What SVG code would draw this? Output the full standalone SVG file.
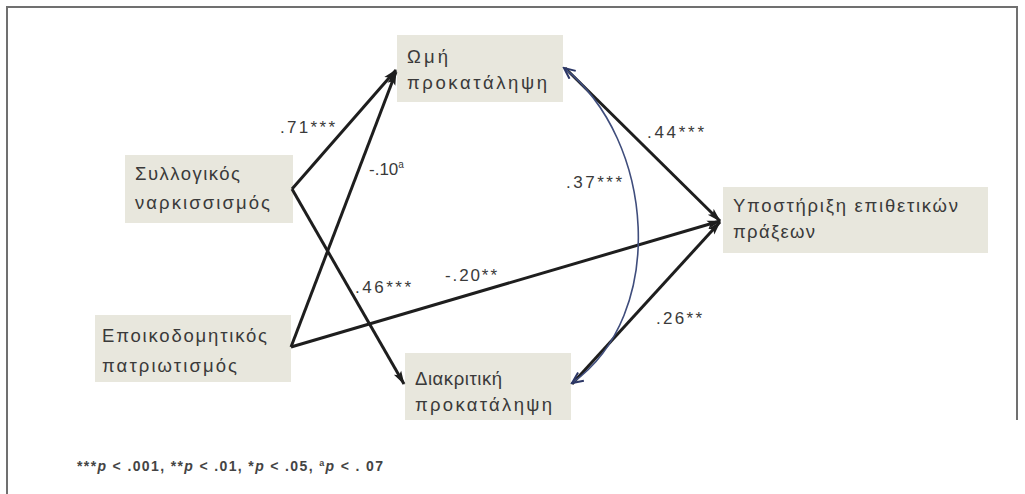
<svg xmlns="http://www.w3.org/2000/svg" width="1025" height="494" viewBox="0 0 1025 494">
<style>
.box{fill:#e8e7dd;}
.nt{font-family:"Liberation Sans","DejaVu Sans",sans-serif;font-size:18.5px;fill:#3a3a3a;}
.lb{font-family:"Liberation Sans","DejaVu Sans",sans-serif;font-size:17px;fill:#3a3a3a;}
.lg{font-family:"Liberation Sans","DejaVu Sans",sans-serif;font-size:14px;font-weight:bold;fill:#444;}
.path{fill:none;stroke:#1e1e1e;stroke-width:3;}
.cov{fill:none;stroke:#3f4d7c;stroke-width:1.6;}
.frame{stroke:#707070;stroke-width:2;fill:none;}
</style>
<defs>
<marker id="ah" markerUnits="userSpaceOnUse" markerWidth="14" markerHeight="10" refX="13" refY="5" orient="auto">
<path d="M0,0.8 L14,5 L0,9.2 L3,5 Z" fill="#1e1e1e"/>
</marker>
<marker id="ahc" markerUnits="userSpaceOnUse" markerWidth="14" markerHeight="12" refX="12" refY="6" orient="auto-start-reverse">
<path d="M1,1 L12,6 L1,11" fill="none" stroke="#2c3766" stroke-width="2"/>
</marker>
</defs>
<rect x="0" y="0" width="1025" height="494" fill="#ffffff"/>
<path class="frame" d="M7,494 L7,7 L1017,7 L1017,420"/>

<g id="node-omi">
<rect class="box" x="397" y="35" width="166" height="67"/>
<text class="nt" x="407" y="63" textLength="41" lengthAdjust="spacing">Ωμή</text>
<text class="nt" x="407" y="89" textLength="140" lengthAdjust="spacing">προκατάληψη</text>
</g>
<g id="node-syllogikos">
<rect class="box" x="125" y="155" width="168" height="68"/>
<text class="nt" x="135" y="180" textLength="105" lengthAdjust="spacing">Συλλογικός</text>
<text class="nt" x="135" y="209" textLength="135" lengthAdjust="spacing">ναρκισσισμός</text>
</g>
<g id="node-epoikodomitikos">
<rect class="box" x="95" y="315" width="196" height="67"/>
<text class="nt" x="102" y="342" textLength="165" lengthAdjust="spacing">Εποικοδομητικός</text>
<text class="nt" x="102" y="372" textLength="135" lengthAdjust="spacing">πατριωτισμός</text>
</g>
<g id="node-ypostirixi">
<rect class="box" x="723" y="187" width="265" height="66"/>
<text class="nt" x="733" y="212" textLength="225" lengthAdjust="spacing">Υποστήριξη επιθετικών</text>
<text class="nt" x="733" y="238" textLength="82" lengthAdjust="spacing">πράξεων</text>
</g>
<g id="node-diakritiki">
<rect class="box" x="405" y="353" width="166" height="67"/>
<text class="nt" x="415" y="385" textLength="87" lengthAdjust="spacing">Διακριτική</text>
<text class="nt" x="415" y="411" textLength="137" lengthAdjust="spacing">προκατάληψη</text>
</g>

<g id="connectors">
<line class="path" x1="292" y1="189" x2="396" y2="70" marker-end="url(#ah)"/>
<line class="path" x1="292" y1="189" x2="404" y2="384" marker-end="url(#ah)"/>
<line class="path" x1="291" y1="347" x2="396" y2="72" marker-end="url(#ah)"/>
<line class="path" x1="291" y1="347" x2="720" y2="221" marker-end="url(#ah)"/>
<line class="path" x1="565" y1="68" x2="720" y2="221" marker-end="url(#ah)"/>
<line class="path" x1="572" y1="384" x2="720" y2="222" marker-end="url(#ah)"/>
<path class="cov" d="M564,68 C655,140 668,315 572,383" marker-start="url(#ahc)" marker-end="url(#ahc)"/>
<text class="lb" x="280" y="133" textLength="55" lengthAdjust="spacing">.71***</text>
<text class="lb" x="369" y="175">-.10<tspan font-size="10" dy="-7">a</tspan></text>
<text class="lb" x="355" y="293" textLength="56" lengthAdjust="spacing">.46***</text>
<text class="lb" x="445" y="281" textLength="52" lengthAdjust="spacing">-.20**</text>
<text class="lb" x="647" y="138" textLength="57" lengthAdjust="spacing">.44***</text>
<text class="lb" x="566" y="188" textLength="56" lengthAdjust="spacing">.37***</text>
<text class="lb" x="656" y="324" textLength="46" lengthAdjust="spacing">.26**</text>
</g>

<text class="lg" x="77" y="471" textLength="306" lengthAdjust="spacing">***<tspan font-style="italic">p</tspan> &lt; .001, **<tspan font-style="italic">p</tspan> &lt; .01, *<tspan font-style="italic">p</tspan> &lt; .05, <tspan font-size="9" dy="-5">a</tspan><tspan dy="5" font-style="italic">p</tspan> &lt; . 07</text>
</svg>
